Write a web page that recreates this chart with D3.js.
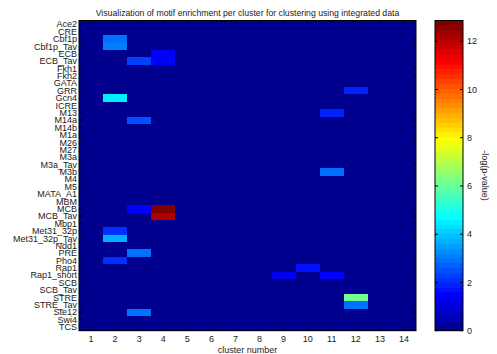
<!DOCTYPE html>
<html><head><meta charset="utf-8">
<script src="https://cdn.jsdelivr.net/npm/d3@7"></script>
<style>body{margin:0;background:#fff}svg{display:block;font-family:"Liberation Sans",Arial,sans-serif}</style>
</head><body><svg id="c" width="497" height="354"></svg>
<script>
const motifs = ["Ace2","CRE","Cbf1p","Cbf1p_Tav","ECB","ECB_Tav","Fkh1","Fkh2","GATA","GRR","Gcn4","ICRE","M13","M14a","M14b","M1a","M26","M27","M3a","M3a_Tav","M3b","M4","M5","MATA_A1","MBM","MCB","MCB_Tav","Mbp1","Met31_32p","Met31_32p_Tav","Ndd1","PRE","Pho4","Rap1","Rap1_short","SCB","SCB_Tav","STRE","STRE_Tav","Ste12","Swi4","TCS"];
const clusters = [1,2,3,4,5,6,7,8,9,10,11,12,13,14];
// non-zero cells (all others are 0)
const hitMotif   = ["Cbf1p","Cbf1p_Tav","ECB","ECB_Tav","ECB_Tav","GRR","Gcn4","M13","M14a","M3b","MCB","MCB","MCB_Tav","Met31_32p","Met31_32p_Tav","PRE","Pho4","Rap1","Rap1_short","Rap1_short","STRE","STRE_Tav","Ste12"];
const hitCluster = [2,2,4,3,4,12,2,11,3,11,3,4,4,2,2,3,2,10,9,11,12,12,3];
const hitValue   = [2.86,3.06,1.55,2.25,1.55,1.85,4.5,1.85,2.45,2.86,1.45,12.86,12.25,2.04,3.67,2.86,2.04,1.75,1.3,1.6,6.1,2.86,2.86];
const cbTicks = [0,2,4,6,8,10,12];
const vMax = 12.86;

function jet(i){ // MATLAB jet(64), i in 0..63
  const k=i+1;
  const f=(x)=>Math.max(0,Math.min(1,x));
  const r=f(Math.min(k-24, 72-k)/16);
  const g=f(Math.min(k-8, 56-k)/16);
  const b=f(Math.min(k+8, 40-k)/16);
  return `rgb(${Math.round(r*255)},${Math.round(g*255)},${Math.round(b*255)})`;
}
function colorOf(v){ let i=Math.floor(v/vMax*64); if(i>63)i=63; if(i<0)i=0; return jet(i); }

const svg=d3.select("#c");
const L=79,R=416,T=20.5,B=330.7;
const x=d3.scaleBand().domain(clusters).range([L,R]);
const y=d3.scaleBand().domain(motifs).range([T,B]);

const data=[];
motifs.forEach(m=>clusters.forEach(c=>data.push({m,c,v:0})));
hitMotif.forEach((m,i)=>{ const d=data.find(e=>e.m===m&&e.c===hitCluster[i]); d.v=hitValue[i]; });

svg.append("g").selectAll("rect").data(data).join("rect")
  .attr("x",d=>x(d.c)).attr("y",d=>y(d.m))
  .attr("width",x.bandwidth()+0.3).attr("height",y.bandwidth()+0.3)
  .attr("fill",d=>colorOf(d.v)).attr("shape-rendering","crispEdges");

const tl=3;
const g=svg.append("g").attr("stroke","#000").attr("stroke-width",1);
g.append("rect").attr("x",L).attr("y",T).attr("width",R-L).attr("height",B-T).attr("fill","none");
motifs.forEach(m=>{const yy=y(m)+y.bandwidth()/2;
  g.append("line").attr("x1",L).attr("x2",L+tl).attr("y1",yy).attr("y2",yy);
  g.append("line").attr("x1",R).attr("x2",R-tl).attr("y1",yy).attr("y2",yy);});
clusters.forEach(c=>{const xx=x(c)+x.bandwidth()/2;
  g.append("line").attr("x1",xx).attr("x2",xx).attr("y1",B).attr("y2",B-tl);
  g.append("line").attr("x1",xx).attr("x2",xx).attr("y1",T).attr("y2",T+tl);});

svg.append("g").selectAll("text").data(motifs).join("text")
  .attr("x",L-2).attr("y",d=>y(d)+y.bandwidth()/2).attr("dy","0.35em")
  .attr("text-anchor","end").attr("font-size",9).attr("fill","#222").text(d=>d);
svg.append("g").selectAll("text").data(clusters).join("text")
  .attr("x",d=>x(d)+x.bandwidth()/2).attr("y",341.5)
  .attr("text-anchor","middle").attr("font-size",9).attr("fill","#222").text(d=>d);
svg.append("text").attr("x",(L+R)/2).attr("y",352.5).attr("text-anchor","middle")
  .attr("font-size",9).attr("fill","#222").text("cluster number");
svg.append("text").attr("x",(L+R)/2).attr("y",15.5).attr("text-anchor","middle")
  .attr("font-size",8.7).attr("fill","#222").text("Visualization of motif enrichment per cluster for clustering using integrated data");

// colorbar
const cL=435,cR=463;
const cy=d3.scaleLinear().domain([0,vMax]).range([B,T]);
const bands=d3.range(64);
svg.append("g").selectAll("rect").data(bands).join("rect")
  .attr("x",cL).attr("width",cR-cL)
  .attr("y",i=>cy((i+1)/64*vMax)).attr("height",i=>cy(i/64*vMax)-cy((i+1)/64*vMax)+0.5)
  .attr("fill",i=>jet(i)).attr("shape-rendering","crispEdges");
const cg=svg.append("g").attr("stroke","#000");
cg.append("rect").attr("x",cL).attr("y",T).attr("width",cR-cL).attr("height",B-T).attr("fill","none");
cbTicks.forEach(t=>{const yy=cy(t);
  cg.append("line").attr("x1",cR).attr("x2",cR-tl).attr("y1",yy).attr("y2",yy);
  cg.append("line").attr("x1",cL).attr("x2",cL+tl).attr("y1",yy).attr("y2",yy);});
svg.append("g").selectAll("text").data(cbTicks).join("text")
  .attr("x",cR+4).attr("y",d=>cy(d)).attr("dy","0.35em")
  .attr("font-size",9).attr("fill","#222").text(d=>d);
svg.append("text").attr("transform",`translate(482,${(T+B)/2}) rotate(90)`)
  .attr("text-anchor","middle").attr("font-size",9).attr("fill","#222").text("-log(p-value)");
</script></body></html>
